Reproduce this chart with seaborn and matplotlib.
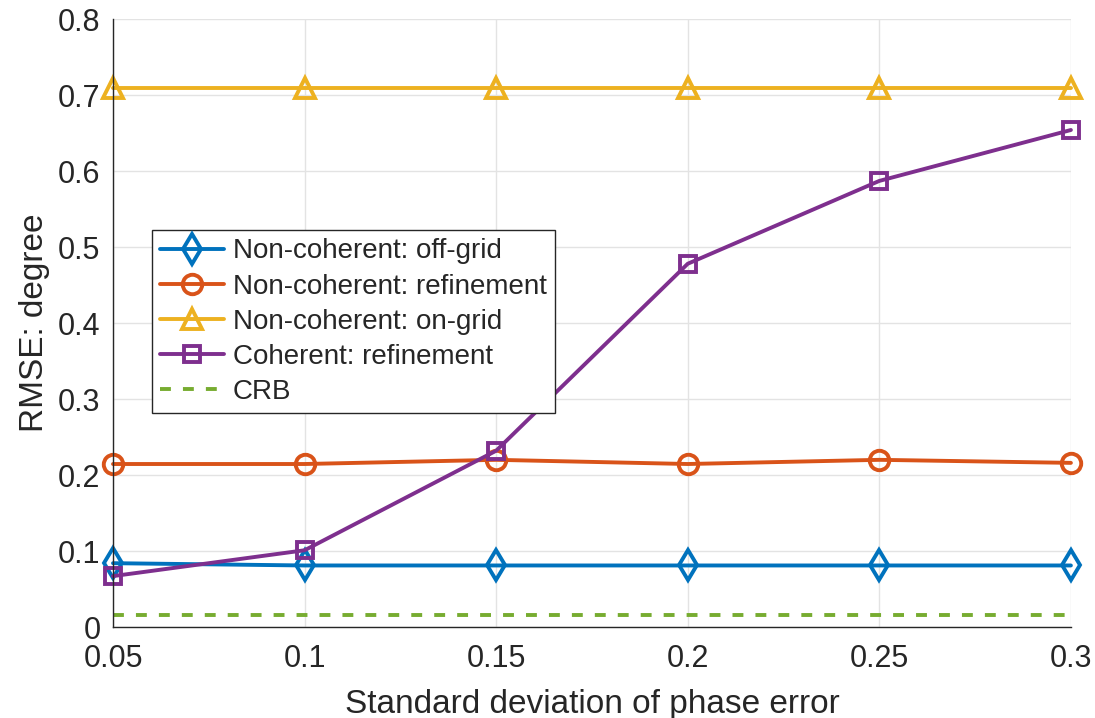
import matplotlib
matplotlib.use("Agg")
import matplotlib.pyplot as plt
import seaborn as sns
import pandas as pd

sigma = [0.05, 0.1, 0.15, 0.2, 0.25, 0.3]
noncoh_offgrid = [0.084, 0.081, 0.081, 0.081, 0.081, 0.081]
noncoh_refine = [0.2145, 0.2145, 0.220, 0.2145, 0.220, 0.216]
noncoh_ongrid = [0.709, 0.709, 0.709, 0.709, 0.709, 0.709]
coh_refine = [0.067, 0.101, 0.232, 0.478, 0.587, 0.654]
crb = [0.016, 0.016, 0.016, 0.016, 0.016, 0.016]

labels = ["Non-coherent: off-grid", "Non-coherent: refinement",
          "Non-coherent: on-grid", "Coherent: refinement", "CRB"]
colors = [(0, 0.447, 0.741), (0.85, 0.325, 0.098), (0.929, 0.694, 0.125),
          (0.494, 0.184, 0.556), (0.466, 0.674, 0.188)]
markers = ["d", "o", "^", "s", None]
msizes = [15, 14, 15, 11, 0]

sns.set_theme(style="white")
plt.rcParams['font.family'] = ['Liberation Sans', 'DejaVu Sans']

fig = plt.figure(figsize=(10.95, 7.18), dpi=100)
ax = fig.add_axes([0.1032, 0.1267, 0.8748, 0.8468])

series = [noncoh_offgrid, noncoh_refine, noncoh_ongrid, coh_refine, crb]
for vals, lab, col, mk, ms in zip(series, labels, colors, markers, msizes):
    df = pd.DataFrame({"x": sigma, "y": vals})
    if mk is None:
        sns.lineplot(data=df, x="x", y="y", ax=ax, color=col, lw=2.8,
                     linestyle=(0, (2.8, 3.1)), label=lab, clip_on=False)
    else:
        sns.lineplot(data=df, x="x", y="y", ax=ax, color=col, lw=2.8,
                     marker=mk, markersize=ms, markerfacecolor="none",
                     markeredgecolor=col, markeredgewidth=2.8,
                     label=lab, clip_on=False)

ax.set_xlim(0.05, 0.3)
ax.set_ylim(0, 0.8)
ax.set_xticks(sigma)
ax.set_xticklabels(["0.05", "0.1", "0.15", "0.2", "0.25", "0.3"])
ax.set_yticks([0, 0.1, 0.2, 0.3, 0.4, 0.5, 0.6, 0.7, 0.8])
ax.set_yticklabels(["0", "0.1", "0.2", "0.3", "0.4", "0.5", "0.6", "0.7", "0.8"])
ax.grid(True, color="#e3e3e3", lw=1.0)
ax.set_axisbelow(True)
for s in ["top", "right"]:
    ax.spines[s].set_visible(False)
for s in ["left", "bottom"]:
    ax.spines[s].set_color("#262626")
    ax.spines[s].set_linewidth(1.0)
ax.tick_params(direction="in", length=6, width=1.0, colors="#262626",
               labelsize=22, labelcolor="#262626")
ax.tick_params(axis="x", pad=12)
ax.tick_params(axis="y", pad=9)
ax.set_xlabel("Standard deviation of phase error", fontsize=24, color="#262626", labelpad=11)
ax.set_ylabel("RMSE: degree", fontsize=24, color="#262626", labelpad=6)

leg = ax.legend(loc="upper left", bbox_to_anchor=(0.0407, 0.653), fontsize=20,
                frameon=True, fancybox=False, edgecolor="#262626", framealpha=1,
                handlelength=2.3, borderpad=0.3, labelspacing=0.33,
                handletextpad=0.3, borderaxespad=0)
leg.get_frame().set_linewidth(1.0)

fig.savefig("out.png", dpi=100)
